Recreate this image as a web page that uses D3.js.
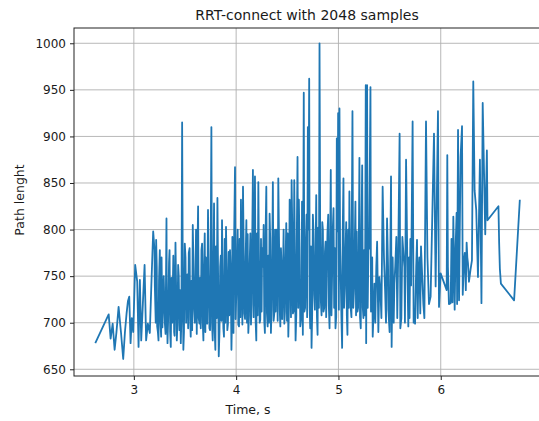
<!DOCTYPE html>
<html>
<head>
<meta charset="utf-8">
<script src="https://cdn.jsdelivr.net/npm/d3@7"></script>
<style>
  body { margin: 0; background: #fff; }
  svg text { font-family: "DejaVu Sans", sans-serif; fill: #1a1a1a; }
  .grid line { stroke: #b0b0b0; stroke-width: 0.9; }
  .axis path, .axis line { stroke: #222; }
</style>
</head>
<body>
<div id="chart"></div>
<script>
// run times (s) and path lengths (peaks and dips)
const times = [
  2.623, 2.754, 2.773, 2.793, 2.812, 2.83, 2.851, 2.874, 2.896, 2.913, 2.929, 2.942, 2.955, 2.968, 2.98, 2.994,
  3.013, 3.033, 3.046, 3.059, 3.072, 3.088, 3.105, 3.12, 3.137, 3.156, 3.171, 3.189, 3.202, 3.218, 3.228, 3.241,
  3.254, 3.267, 3.286, 3.303, 3.319, 3.329, 3.349, 3.361, 3.381, 3.394, 3.407, 3.42, 3.439, 3.459, 3.472, 3.484,
  3.498, 3.517, 3.537, 3.556, 3.576, 3.589, 3.608, 3.628, 3.641, 3.661, 3.68, 3.693, 3.71, 3.725, 3.745, 3.758,
  3.771, 3.784, 3.797, 3.817, 3.83, 3.844, 3.862, 3.881, 3.901, 3.92, 3.94, 3.954, 3.963, 3.974, 3.989, 4.002,
  4.015, 4.028, 4.047, 4.067, 4.08, 4.1, 4.119, 4.139, 4.151, 4.164, 4.184, 4.197, 4.217, 4.236, 4.254, 4.269,
  4.281, 4.295, 4.308, 4.327, 4.34, 4.359, 4.373, 4.393, 4.412, 4.432, 4.444, 4.457, 4.471, 4.49, 4.51, 4.523,
  4.542, 4.555, 4.568, 4.581, 4.6, 4.613, 4.627, 4.644, 4.652, 4.661, 4.674, 4.688, 4.701, 4.714, 4.724, 4.737,
  4.75, 4.763, 4.783, 4.796, 4.815, 4.828, 4.842, 4.854, 4.874, 4.886, 4.9, 4.913, 4.925, 4.939, 4.952, 4.971,
  4.984, 4.997, 5.01, 5.022, 5.036, 5.049, 5.062, 5.076, 5.088, 5.107, 5.12, 5.137, 5.153, 5.166, 5.186, 5.205,
  5.218, 5.232, 5.244, 5.267, 5.271, 5.28, 5.293, 5.313, 5.325, 5.335, 5.352, 5.378, 5.4, 5.432, 5.456, 5.475,
  5.488, 5.514, 5.52, 5.547, 5.566, 5.598, 5.605, 5.625, 5.637, 5.661, 5.676, 5.683, 5.703, 5.725, 5.742, 5.749,
  5.768, 5.781, 5.807, 5.83, 5.856, 5.901, 5.934, 5.95, 5.973, 5.983, 5.999, 6.058, 6.064, 6.097, 6.123, 6.136,
  6.155, 6.169, 6.179, 6.194, 6.208, 6.227, 6.253, 6.266, 6.276, 6.291, 6.305, 6.318, 6.331, 6.347, 6.364, 6.383,
  6.398, 6.41, 6.435, 6.451, 6.457, 6.564, 6.571, 6.578, 6.588, 6.717, 6.773
];
const lengths = [
  678, 709, 683, 699, 671, 690, 717, 690, 661, 690, 710, 723, 728, 678, 705, 690,
  762, 744, 674, 746, 681, 720, 762, 681, 699, 689, 740, 798, 778, 789, 696, 681,
  778, 685, 721, 700, 812, 678, 778, 674, 740, 690, 786, 681, 750, 678, 915, 671,
  785, 742, 775, 685, 805, 714, 800, 825, 699, 778, 681, 796, 730, 821, 692, 910,
  681, 828, 671, 834, 664, 760, 810, 685, 803, 699, 778, 671, 792, 689, 867, 732,
  800, 696, 832, 846, 710, 810, 689, 796, 720, 864, 857, 681, 851, 703, 780, 805,
  689, 846, 696, 817, 689, 851, 710, 800, 855, 696, 760, 746, 699, 807, 685, 832,
  853, 710, 853, 681, 878, 832, 696, 830, 687, 947, 716, 816, 910, 962, 694, 673,
  816, 730, 837, 687, 1000, 723, 808, 712, 787, 758, 816, 694, 864, 758, 823, 694,
  898, 925, 930, 751, 673, 855, 737, 808, 687, 841, 716, 927, 737, 830, 712, 877,
  694, 869, 705, 955, 678, 955, 778, 953, 757, 685, 742, 787, 749, 846, 735, 812,
  714, 857, 674, 742, 792, 903, 694, 792, 771, 875, 742, 696, 790, 916, 710, 699,
  789, 749, 782, 720, 916, 728, 903, 739, 927, 717, 753, 735, 880, 721, 814, 714,
  818, 907, 724, 878, 911, 767, 786, 764, 744, 757, 767, 959, 842, 821, 749, 875,
  721, 936, 795, 885, 810, 825, 785, 758, 742, 724, 832
];
// the dense band of runs between the peaks (roughly 690-800)
const bandTimes = [
  3.205, 3.214, 3.224, 3.235, 3.246, 3.258, 3.271, 3.279, 3.292, 3.31,
  3.322, 3.335, 3.344, 3.355, 3.368, 3.375, 3.386, 3.398, 3.413, 3.426,
  3.433, 3.446, 3.452, 3.465, 3.478, 3.49, 3.505, 3.511, 3.523, 3.531,
  3.545, 3.551, 3.563, 3.57, 3.582, 3.596, 3.603, 3.615, 3.622, 3.634,
  3.647, 3.654, 3.667, 3.673, 3.686, 3.699, 3.704, 3.717, 3.731, 3.739,
  3.751, 3.764, 3.777, 3.79, 3.803, 3.81, 3.823, 3.837, 3.85, 3.856,
  3.868, 3.875, 3.888, 3.894, 3.907, 3.914, 3.927, 3.933, 3.947, 3.958,
  3.979, 3.995, 4.008, 4.021, 4.034, 4.041, 4.054, 4.061, 4.073, 4.087,
  4.093, 4.106, 4.113, 4.126, 4.132, 4.145, 4.157, 4.171, 4.178, 4.191,
  4.204, 4.21, 4.223, 4.23, 4.243, 4.249, 4.262, 4.275, 4.288, 4.301,
  4.314, 4.321, 4.333, 4.346, 4.353, 4.366, 4.38, 4.386, 4.399, 4.406,
  4.419, 4.426, 4.438, 4.45, 4.464, 4.477, 4.484, 4.497, 4.503, 4.516,
  4.529, 4.536, 4.549, 4.561, 4.574, 4.588, 4.594, 4.607, 4.62, 4.639,
  4.647, 4.667, 4.681, 4.694, 4.707, 4.719, 4.731, 4.743, 4.756, 4.77,
  4.777, 4.79, 4.802, 4.809, 4.822, 4.835, 4.848, 4.861, 4.868, 4.88,
  4.893, 4.906, 4.919, 4.932, 4.945, 4.958, 4.965, 4.978, 4.991, 5.004,
  5.016, 5.029, 5.042, 5.055, 5.069, 5.082, 5.095, 5.101, 5.113, 5.127,
  5.13, 5.145, 5.159, 5.172, 5.179, 5.192, 5.199, 5.211, 5.225, 5.238,
  5.25, 5.258, 5.262, 5.286, 5.3, 5.318, 5.33, 5.345,
  5.36, 5.37, 5.39, 5.41, 5.42, 5.445, 5.465, 5.485, 5.5, 5.53,
  5.54, 5.555, 5.575, 5.585, 5.615, 5.645, 5.65, 5.69, 5.695, 5.71,
  5.735, 5.76, 5.775, 5.79, 5.8, 5.815, 5.84, 5.87, 5.885,
  6.07, 6.08, 6.105, 6.115, 6.145, 6.16, 6.185, 6.215, 6.235, 6.245, 6.26
];
const bandLengths = [
  740, 700, 760, 690, 745, 705, 770, 695, 750, 688,
  735, 702, 765, 690, 748, 700, 772, 686, 740, 698,
  762, 692, 735, 705, 758, 690, 770, 700, 752, 694,
  780, 703, 745, 692, 768, 700, 755, 688, 776, 705,
  748, 694, 785, 702, 760, 690, 770, 699, 752, 694,
  778, 700, 745, 692, 782, 705, 758, 690, 772, 702,
  748, 694, 790, 700, 760, 692, 776, 708, 752, 696,
  780, 704, 768, 698, 790, 706, 760, 698, 785, 704,
  770, 700, 795, 708, 762, 698, 788, 706, 772, 700,
  796, 708, 768, 700, 790, 712, 760, 702, 798, 710,
  772, 700, 790, 714, 775, 702, 800, 712, 768, 702,
  792, 714, 780, 704, 800, 712, 772, 702, 796, 716,
  782, 706, 800, 712, 776, 708, 805, 716, 780, 708,
  798, 712, 784, 706, 800, 716, 782, 708, 798, 714,
  780, 706, 802, 716, 784, 708, 800, 716, 776, 706,
  798, 718, 782, 708, 802, 716, 780, 706, 798, 714,
  784, 706, 800, 716, 778, 708, 800, 716, 782, 706,
  796, 716, 782, 708, 798, 716, 780, 706, 794, 716,
  778, 708, 790, 716, 780, 712, 770, 716,
  700, 760, 690, 735, 705, 770, 700, 760, 690, 770,
  700, 760, 705, 780, 705, 760, 700, 770, 705, 740,
  700, 760, 705, 770, 710, 760, 705, 770, 720,
  760, 720, 790, 722, 780, 720, 790, 730, 775, 735, 770
];
const xTicks = [3, 4, 5, 6];
const yTicks = [650, 700, 750, 800, 850, 900, 950, 1000];

const W = 539, H = 421;
const margin = { top: 28, right: -2, bottom: 45, left: 74 };
const width = W - margin.left - margin.right;
const height = H - margin.top - margin.bottom;

const svg = d3.select("#chart").append("svg")
  .attr("width", W)
  .attr("height", H);

const g = svg.append("g")
  .attr("transform", `translate(${margin.left}, ${margin.top})`);

const x = d3.scaleLinear().domain([2.415, 6.98]).range([0, width]);
const y = d3.scaleLinear().domain([642.8, 1016.4]).range([height, 0]);

// grid
g.append("g").attr("class", "grid")
  .selectAll("line").data(xTicks).enter().append("line")
  .attr("x1", d => x(d)).attr("x2", d => x(d))
  .attr("y1", 0).attr("y2", height);
g.append("g").attr("class", "grid")
  .selectAll("line").data(yTicks).enter().append("line")
  .attr("x1", 0).attr("x2", width)
  .attr("y1", d => y(d)).attr("y2", d => y(d));

// all runs, in time order
const pts = times.map((t, i) => [t, lengths[i]])
  .concat(bandTimes.map((t, i) => [t, bandLengths[i]]))
  .sort((a, b) => a[0] - b[0]);

const line = d3.line().x(d => x(d[0])).y(d => y(d[1]));
g.append("path")
  .datum(pts)
  .attr("d", line)
  .attr("fill", "none")
  .attr("stroke", "#1f77b4")
  .attr("stroke-width", 1.8)
  .attr("stroke-linejoin", "round");

// axes
const xAxis = g.append("g").attr("class", "axis")
  .attr("transform", `translate(0, ${height})`)
  .call(d3.axisBottom(x).tickValues(xTicks).tickSize(4).tickPadding(5).tickFormat(d3.format("d")));
const yAxis = g.append("g").attr("class", "axis")
  .call(d3.axisLeft(y).tickValues(yTicks).tickSize(4).tickPadding(4).tickFormat(d3.format("d")));
[xAxis, yAxis].forEach(a => {
  a.select(".domain").remove();
  a.selectAll("text").style("font-size", "12px").attr("fill", "#1a1a1a");
});

// frame
g.append("rect")
  .attr("width", width).attr("height", height)
  .attr("fill", "none").attr("stroke", "#222").attr("stroke-width", 1);

// labels
svg.append("text")
  .attr("x", 307).attr("y", 20)
  .attr("text-anchor", "middle")
  .style("font-size", "14px")
  .text("RRT-connect with 2048 samples");

svg.append("text")
  .attr("x", 248).attr("y", 414)
  .attr("text-anchor", "middle")
  .style("font-size", "12.5px")
  .text("Time, s");

svg.append("text")
  .attr("transform", "translate(24, 200) rotate(-90)")
  .attr("text-anchor", "middle")
  .style("font-size", "12.5px")
  .text("Path lenght");
</script>
</body>
</html>
